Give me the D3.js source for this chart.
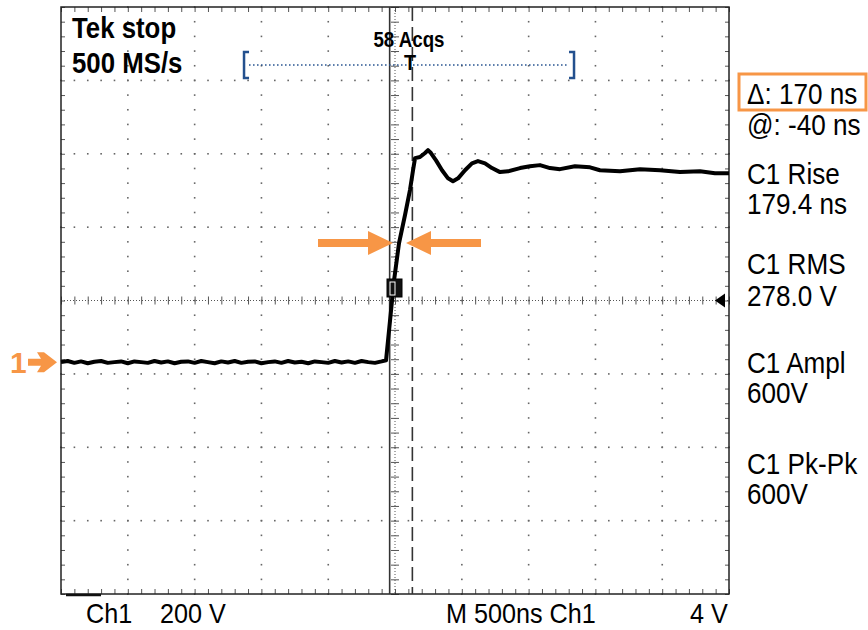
<!DOCTYPE html>
<html>
<head>
<meta charset="utf-8">
<script src="https://cdn.jsdelivr.net/npm/d3@7"></script>
<style>
  body { margin: 0; background: #fff; }
  svg { display: block; font-family: "Liberation Sans", Arial, sans-serif; }
</style>
</head>
<body>
<div id="scope"></div>
<script>
// Var definitions for the svg
var svgWidth = 868;
var svgHeight = 630;

// scope settings
var voltsPerDiv = 200;
var nsPerDiv = 500;
var ch1Offset = -0.84;     // ground marker position in divisions
var cursorTimes = [-40, 130];  // @: -40 ns, delta 170 ns
var triggerTime = 112;
var triggerLevel = 168;
var bracketTimes = [-1130, 1340];

// waveform, time in ns and volts
var baseTimes = [-2500, -2450, -2400, -2350, -2300, -2250, -2200, -2150, -2100, -2050,
  -2000, -1950, -1900, -1850, -1800, -1750, -1700, -1650, -1600, -1550,
  -1500, -1450, -1400, -1350, -1300, -1250, -1200, -1150, -1100, -1050,
  -1000, -950, -900, -850, -800, -750, -700, -650, -600, -550,
  -500, -450, -400, -350, -300, -250, -200, -150, -100];
var baseVolts = [0, 3, -2, 2, -3, 1, 3, -2, 0, 2,
  -3, 2, 0, -2, 3, -1, 2, -3, 1, 2,
  -2, 3, 0, -3, 2, -1, 3, -2, 1, 2,
  -3, 0, 2, -2, 3, -1, 1, -3, 2, 0,
  -2, 3, -1, 2, -2, 3, 0, -2, 2];
var edgeTimes = [-67, -37, -7, 30, 75, 112, 135, 150, 187, 225, 247, 269, 307, 352,
  397, 434, 472, 524, 576, 621, 674, 726, 786, 846, 936, 1010, 1085, 1160,
  1235, 1347, 1460, 1534, 1684, 1834, 1984, 2133, 2283, 2395, 2500];
var edgeVolts = [5, 114, 223, 324, 401, 469, 523, 556, 559, 570, 578, 570, 550, 523,
  501, 493, 501, 523, 542, 548, 542, 529, 518, 520, 529, 534, 537, 529,
  526, 534, 531, 523, 520, 526, 523, 518, 520, 515, 515];

// readouts
var rightLabels = ["Δ: 170 ns", "@: -40 ns", "C1 Rise", "179.4 ns", "C1 RMS", "278.0 V",
  "C1 Ampl", "600V", "C1 Pk-Pk", "600V"];
var rightBaselines = [104, 135, 184, 214, 274, 306, 373, 403, 474, 504];
var bottomLabels = ["Ch1", "200 V", "M 500ns Ch1", "4 V"];
var bottomX = [86, 160, 446, 690];

var orange = "#f79646";
var gridColor = "#666";

var svg = d3.select("#scope")
  .append("svg")
  .attr("width", svgWidth)
  .attr("height", svgHeight);

// plot frame (window.top is read-only, so use own names)
var pLeft = 61, pRight = 729, pTop = 7, pBottom = 594;
var cx = (pLeft + pRight) / 2;

var x = d3.scaleLinear().domain([-5 * nsPerDiv, 5 * nsPerDiv]).range([pLeft, pRight]);
var yDiv = d3.scaleLinear().domain([-4, 4]).range([pBottom, pTop]);
var yV = v => yDiv(v / voltsPerDiv + ch1Offset);
var cy = yDiv(0);

// grid dots
var dots = svg.append("g").attr("fill", gridColor);
for (var i = -4; i <= 4; i++) {
  if (i === 0) continue;
  var tx = i * nsPerDiv;
  d3.range(-4, 4.01, 0.2).forEach(function(d) {
    dots.append("rect").attr("x", x(tx) - 0.75).attr("y", yDiv(d) - 0.75)
      .attr("width", 1.6).attr("height", 1.6);
  });
}
for (var j = -3; j <= 3; j++) {
  if (j === 0) continue;
  d3.range(-2500, 2501, 100).forEach(function(t) {
    dots.append("rect").attr("x", x(t) - 0.75).attr("y", yDiv(j) - 0.75)
      .attr("width", 1.6).attr("height", 1.6);
  });
}

// center axes (dense dotted with ticks)
svg.append("line").attr("x1", pLeft).attr("x2", pRight).attr("y1", cy).attr("y2", cy)
  .attr("stroke", "#555").attr("stroke-dasharray", "1,2");
svg.append("line").attr("x1", cx).attr("x2", cx).attr("y1", pTop).attr("y2", pBottom)
  .attr("stroke", "#555").attr("stroke-dasharray", "1,2");

var minorT = d3.range(-2500, 2501, 100);
var minorD = d3.range(-4, 4.01, 0.2).map(d => +d.toFixed(1));

svg.append("g").attr("transform", `translate(0, ${cy - 4})`)
  .call(d3.axisBottom(x).tickValues(minorT).tickSize(8).tickFormat(""))
  .call(g => g.select(".domain").remove())
  .selectAll("line").attr("stroke", "#555");
svg.append("g").attr("transform", `translate(${cx - 4}, 0)`)
  .call(d3.axisRight(yDiv).tickValues(minorD).tickSize(8).tickFormat(""))
  .call(g => g.select(".domain").remove())
  .selectAll("line").attr("stroke", "#555");

// frame ticks
svg.append("g").attr("transform", `translate(0, ${pTop})`)
  .call(d3.axisBottom(x).tickValues(minorT).tickSize(5).tickFormat(""))
  .call(g => g.select(".domain").remove())
  .selectAll("line").attr("stroke", "#555");
svg.append("g").attr("transform", `translate(0, ${pBottom})`)
  .call(d3.axisTop(x).tickValues(minorT).tickSize(5).tickFormat(""))
  .call(g => g.select(".domain").remove())
  .selectAll("line").attr("stroke", "#555");
svg.append("g").attr("transform", `translate(${pLeft}, 0)`)
  .call(d3.axisRight(yDiv).tickValues(minorD).tickSize(4).tickFormat(""))
  .call(g => g.select(".domain").remove())
  .selectAll("line").attr("stroke", "#555");
svg.append("g").attr("transform", `translate(${pRight}, 0)`)
  .call(d3.axisLeft(yDiv).tickValues(minorD).tickSize(4).tickFormat(""))
  .call(g => g.select(".domain").remove())
  .selectAll("line").attr("stroke", "#555");

// frame
svg.append("rect").attr("x", pLeft).attr("y", pTop)
  .attr("width", pRight - pLeft).attr("height", pBottom - pTop)
  .attr("fill", "none").attr("stroke", "#222").attr("stroke-width", 1.5);

// ground line stub at bottom-left
svg.append("line").attr("x1", 66).attr("x2", 101).attr("y1", pBottom + 1).attr("y2", pBottom + 1)
  .attr("stroke", "#111").attr("stroke-width", 2.5);

// cursors
svg.append("line").attr("x1", x(cursorTimes[0])).attr("x2", x(cursorTimes[0]))
  .attr("y1", pTop).attr("y2", pBottom).attr("stroke", "#333").attr("stroke-width", 1.6);
svg.append("line").attr("x1", x(cursorTimes[1])).attr("x2", x(cursorTimes[1]))
  .attr("y1", pTop).attr("y2", pBottom).attr("stroke", "#333").attr("stroke-width", 1.6)
  .attr("stroke-dasharray", "14,6");

// waveform
var pts = baseTimes.map((t, i) => [t, baseVolts[i]])
  .concat(edgeTimes.map((t, i) => [t, edgeVolts[i]]));
var line = d3.line().x(d => x(d[0])).y(d => yV(d[1]));
svg.append("path").datum(pts)
  .attr("d", line).attr("fill", "none")
  .attr("stroke", "#000").attr("stroke-width", 4).attr("stroke-linejoin", "round");

// measurement marker box
svg.append("rect").attr("x", 387).attr("y", 279).attr("width", 15).attr("height", 18)
  .attr("fill", "#111").attr("stroke", "#000");
svg.append("rect").attr("x", 390).attr("y", 282).attr("width", 5).attr("height", 13)
  .attr("fill", "none").attr("stroke", "#fff").attr("stroke-width", 1);

// orange rise-time arrows
var arrowY = 243;
function arrow(tipX, dir) {
  var p = d3.path();
  var hx = tipX - dir * 25, ex = tipX - dir * 75;
  p.moveTo(tipX, arrowY);
  p.lineTo(hx, arrowY - 12);
  p.lineTo(hx, arrowY - 4);
  p.lineTo(ex, arrowY - 4);
  p.lineTo(ex, arrowY + 4);
  p.lineTo(hx, arrowY + 4);
  p.lineTo(hx, arrowY + 12);
  p.closePath();
  svg.append("path").attr("d", p.toString()).attr("fill", orange);
}
arrow(393, 1);
arrow(406, -1);

// trigger level marker on the right
var ty = yV(triggerLevel);
svg.append("path")
  .attr("d", `M${pRight - 14},${ty} L${pRight - 4},${ty - 7} L${pRight - 4},${ty + 7} Z`)
  .attr("fill", "#000");

// ch1 ground marker
var gy = yV(0);
svg.append("text").attr("x", 10).attr("y", gy + 11)
  .attr("font-size", 30).attr("font-weight", "bold").attr("fill", orange).text("1");
svg.append("path")
  .attr("d", `M28,${gy - 3.5} L41,${gy - 3.5} L37,${gy - 10} L44,${gy - 10} L57,${gy} L44,${gy + 10} L37,${gy + 10} L41,${gy + 3.5} L28,${gy + 3.5} Z`)
  .attr("fill", orange);

// record bracket
var blue = "#23508e";
var by = 65;
svg.append("line").attr("x1", x(bracketTimes[0]) + 5).attr("x2", x(bracketTimes[1]) - 5)
  .attr("y1", by).attr("y2", by).attr("stroke", blue).attr("stroke-width", 1.5)
  .attr("stroke-dasharray", "1.5,2.5");
svg.append("path")
  .attr("d", `M${x(bracketTimes[0]) + 5},${by - 13} H${x(bracketTimes[0])} V${by + 13} H${x(bracketTimes[0]) + 5}`)
  .attr("fill", "none").attr("stroke", blue).attr("stroke-width", 2.5);
svg.append("path")
  .attr("d", `M${x(bracketTimes[1]) - 5},${by - 13} H${x(bracketTimes[1])} V${by + 13} H${x(bracketTimes[1]) - 5}`)
  .attr("fill", "none").attr("stroke", blue).attr("stroke-width", 2.5);

// texts
function label(txt, tx, ty, size, weight, sx, anchor) {
  svg.append("text")
    .attr("transform", `translate(${tx}, ${ty}) scale(${sx}, 1)`)
    .attr("font-size", size).attr("font-weight", weight || "normal")
    .attr("text-anchor", anchor || "start")
    .attr("fill", "#000").text(txt);
}
label("Tek stop", 72, 38, 30, "bold", 0.86);
label("500 MS/s", 72, 73, 30, "bold", 0.86);
label("58 Acqs", x(triggerTime) - 1, 47, 22, "bold", 0.85, "middle");
label("T", x(triggerTime), 70, 22, "bold", 0.9, "middle");

rightLabels.forEach(function(t, i) {
  label(t, 747, rightBaselines[i], 30, "normal", 0.87);
});
svg.append("rect").attr("x", 739).attr("y", 74).attr("width", 127).attr("height", 36)
  .attr("fill", "none").attr("stroke", orange).attr("stroke-width", 3);

bottomLabels.forEach(function(t, i) {
  label(t, bottomX[i], 623, 28, "normal", 0.9);
});
</script>
</body>
</html>
